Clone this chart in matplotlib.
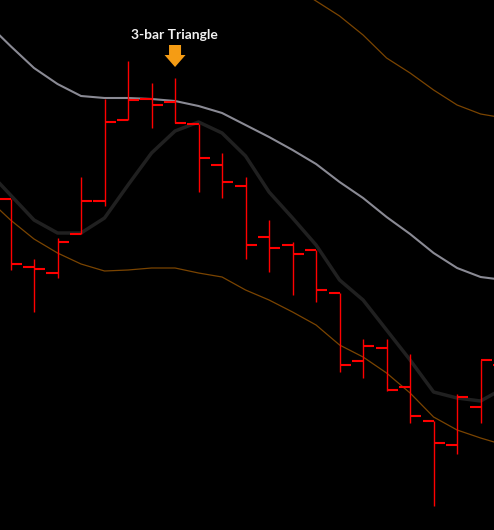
import numpy as np
import matplotlib.pyplot as plt
import matplotlib.transforms as mtransforms
from matplotlib.patches import Polygon

# OHLC bars (one per session, left tick = open, right tick = close)
bar_open = [133.1, 126.3, 125.7, 129.6, 132.9, 141.0, 143.1, 142.8, 140.6, 136.5, 134.4,
            129.3, 128.5, 128.0, 123.7, 116.9, 118.2, 114.3, 110.9, 108.5, 112.3, 116.5]
bar_high = [133.1, 127.1, 129.2, 135.3, 143.1, 146.9, 144.7, 145.2, 140.6, 137.7, 135.3,
            131.0, 128.8, 128.0, 123.7, 119.1, 119.1, 117.6, 110.9, 113.6, 117.0, 117.5]
bar_low = [126.0, 121.8, 125.2, 129.6, 132.4, 141.0, 140.2, 140.7, 133.8, 133.2, 127.1,
           125.8, 123.5, 122.8, 115.8, 115.2, 113.9, 110.7, 102.4, 107.6, 110.7, 113.0]
bar_close = [126.6, 126.1, 128.8, 132.9, 140.8, 143.0, 142.5, 140.7, 137.2, 134.8, 128.5,
             128.2, 127.6, 124.0, 116.5, 118.4, 114.0, 111.4, 108.7, 113.3, 117.0, 117.8]

# overlay lines, starting one bar before the first visible bar
line_idx = list(range(-1, 22))
upper_gray = [150.7, 148.4, 146.2, 144.6, 143.4, 143.2, 143.2, 143.1, 142.9, 142.4, 141.7, 140.5,
              139.3, 138.0, 136.6, 134.8, 133.2, 131.3, 129.6, 127.7, 126.2, 125.3, 125.0]
mid_dark = [136.0, 133.5, 131.0, 129.7, 129.7, 131.2, 134.5, 137.7, 139.9, 140.8, 139.7, 137.4,
            133.8, 131.2, 128.5, 125.0, 123.0, 120.0, 117.0, 113.8, 113.2, 112.9, 114.2]
band_low = [133.2, 131.0, 129.1, 127.7, 126.6, 125.9, 126.0, 126.2, 126.2, 125.7, 125.3, 124.0,
            123.0, 121.8, 120.5, 118.5, 117.3, 115.7, 113.7, 111.3, 110.0, 109.2, 108.5]
band_high = [158.0, 157.5, 157.0, 156.5, 156.0, 156.0, 156.5, 157.0, 157.5, 157.8, 157.5, 156.8,
             155.7, 154.4, 152.9, 151.4, 149.5, 147.2, 145.7, 144.0, 142.5, 141.6, 141.2]

pattern_bar = 7
pattern_label = "3-bar Triangle"

fig = plt.figure(figsize=(4.94, 5.30), dpi=100, facecolor="#000000")
ax = fig.add_axes([0, 0, 1, 1])
ax.set_facecolor("#000000")

ax.plot(line_idx, band_high, color="#7a4400", lw=0.9, zorder=1)
ax.plot(line_idx, band_low, color="#7a4400", lw=0.9, zorder=1)
ax.plot(line_idx, upper_gray, color="#8a8a94", lw=1.5, zorder=1)
ax.plot(line_idx, mid_dark, color="#202020", lw=2.5, zorder=1)

x = np.arange(len(bar_open))
w = 0.47
red = "#ff0000"
ax.vlines(x, bar_low, bar_high, color=red, lw=1.0, zorder=3)
ax.hlines(bar_open, x - w, x, color=red, lw=1.5, zorder=3)
ax.hlines(bar_close, x, x + w, color=red, lw=1.5, zorder=3)

# pattern marker: arrow + label above the bar's high, sizes in pixels
anchor = mtransforms.ScaledTranslation(pattern_bar, bar_high[pattern_bar], ax.transData)
arrow = Polygon([(0, 11), (-10.5, 23), (-6, 23), (-6, 33), (6, 33), (6, 23), (10.5, 23)],
                closed=True, facecolor="#f59c14", edgecolor="none",
                transform=mtransforms.Affine2D() + anchor, zorder=5)
ax.add_patch(arrow)
ax.annotate(pattern_label, xy=(pattern_bar, bar_high[pattern_bar]), xytext=(-1, 43),
            textcoords="offset pixels", ha="center", va="center",
            color="#f2f2f2", fontsize=10, fontweight="bold", family=["Lato", "DejaVu Sans"])

ax.set_xlim(-0.447, 20.57)
ax.set_ylim(100, 153)
ax.axis("off")

fig.savefig("out.png", dpi=100, facecolor=fig.get_facecolor())
